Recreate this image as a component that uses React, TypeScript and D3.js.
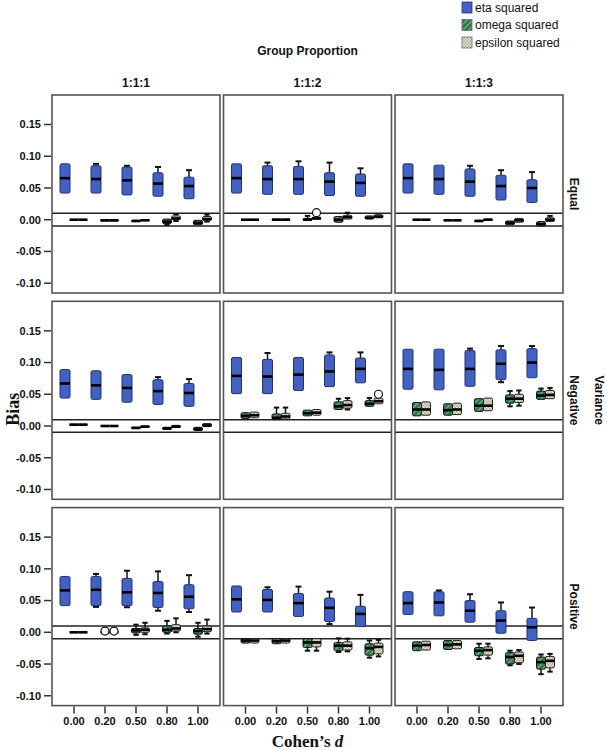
import React from "react";
import * as d3 from "d3";

// ---- data ----
const cohensD = ["0.00", "0.20", "0.50", "0.80", "1.00"];
const proportions = ["1:1:1", "1:1:2", "1:1:3"];
const varianceConds = ["Equal", "Negative", "Positive"];
const yTicks = [0.15, 0.1, 0.05, 0.0, -0.05, -0.1];
const yTickLabels = ["0.15", "0.10", "0.05", "0.00", "-0.05", "-0.10"];
const measures = ["eta squared", "omega squared", "epsilon squared"];

// each box: [lowWhisker, q1, median, q3, highWhisker]; per proportion column, 5 d-levels
const etaEqual = [
  [[0.042,0.042,0.0655,0.088,0.089],[0.042,0.042,0.064,0.085,0.088],[0.039,0.039,0.062,0.083,0.085],[0.037,0.037,0.057,0.074,0.083],[0.033,0.033,0.053,0.067,0.078]],
  [[0.042,0.042,0.0655,0.088,0.088],[0.040,0.040,0.064,0.085,0.090],[0.040,0.040,0.064,0.084,0.092],[0.038,0.038,0.060,0.074,0.090],[0.037,0.037,0.058,0.072,0.081]],
  [[0.042,0.042,0.0655,0.088,0.088],[0.040,0.040,0.064,0.086,0.086],[0.037,0.037,0.060,0.080,0.085],[0.031,0.031,0.053,0.070,0.078],[0.027,0.027,0.050,0.063,0.075]],
];
const omegaEqual = [
  [[0,0,0,0,0],[-0.002,-0.002,-0.001,0,0],[-0.003,-0.003,-0.002,-0.001,-0.001],[-0.008,-0.006,-0.003,0.001,0.002],[-0.009,-0.008,-0.005,-0.001,0]],
  [[0,0,0,0,0],[-0.002,-0.001,0,0.001,0.001],[-0.001,-0.001,0,0.002,0.006],[-0.005,-0.004,0,0.005,0.006],[0.001,0.001,0.003,0.006,0.006]],
  [[0,0,0,0,0],[-0.001,-0.001,-0.001,-0.001,-0.001],[-0.003,-0.003,-0.002,-0.001,-0.001],[-0.009,-0.008,-0.005,-0.002,-0.002],[-0.011,-0.010,-0.007,-0.003,-0.003]],
];
const epsilonEqual = [
  [[0,0,0,0,0],[-0.002,-0.002,-0.001,0,0],[-0.002,-0.001,-0.001,0,0],[-0.002,0,0.002,0.006,0.009],[-0.003,-0.001,0.001,0.005,0.008]],
  [[0,0,0,0,0],[-0.002,-0.001,0,0.001,0.001],[0,0.001,0.002,0.004,0.004],[0,0.001,0.004,0.007,0.011],[0.002,0.003,0.005,0.008,0.009]],
  [[0,0,0,0,0],[-0.001,-0.001,-0.001,-0.001,-0.001],[-0.002,-0.001,0,0.001,0.001],[-0.005,-0.004,-0.001,0.002,0.003],[-0.004,-0.003,0,0.003,0.006]],
];
const etaNegative = [
  [[0.044,0.044,0.067,0.089,0.090],[0.042,0.042,0.064,0.087,0.087],[0.0375,0.0375,0.060,0.081,0.081],[0.034,0.034,0.055,0.073,0.077],[0.031,0.031,0.052,0.067,0.074]],
  [[0.051,0.051,0.079,0.108,0.108],[0.051,0.051,0.078,0.105,0.115],[0.056,0.056,0.081,0.108,0.108],[0.062,0.062,0.086,0.112,0.116],[0.068,0.068,0.090,0.107,0.116]],
  [[0.058,0.058,0.090,0.121,0.121],[0.057,0.057,0.0885,0.121,0.121],[0.0625,0.0625,0.090,0.119,0.122],[0.069,0.073,0.098,0.120,0.126],[0.076,0.076,0.100,0.122,0.126]],
];
const omegaNegative = [
  [[0.002,0.002,0.002,0.003,0.003],[0,0,0,0,0],[-0.004,-0.004,-0.003,-0.002,-0.002],[-0.005,-0.005,-0.004,-0.002,-0.002],[-0.008,-0.007,-0.005,-0.002,-0.002]],
  [[0.012,0.012,0.016,0.021,0.021],[0.010,0.010,0.013,0.019,0.029],[0.016,0.016,0.020,0.025,0.025],[0.025,0.026,0.031,0.038,0.043],[0.031,0.031,0.035,0.040,0.044]],
  [[0.015,0.016,0.026,0.037,0.038],[0.016,0.017,0.025,0.035,0.036],[0.022,0.023,0.032,0.043,0.044],[0.031,0.036,0.043,0.049,0.055],[0.041,0.042,0.048,0.055,0.059]],
];
const epsilonNegative = [
  [[0.002,0.002,0.002,0.003,0.003],[0,0,0,0,0],[-0.002,-0.002,-0.001,0,0],[-0.002,-0.002,-0.001,0.001,0.001],[-0.001,-0.001,0.001,0.004,0.004]],
  [[0.012,0.013,0.017,0.022,0.022],[0.010,0.011,0.015,0.020,0.029],[0.017,0.017,0.021,0.026,0.027],[0.026,0.028,0.033,0.040,0.044],[0.034,0.035,0.039,0.044,0.045]],
  [[0.016,0.017,0.026,0.038,0.039],[0.017,0.018,0.026,0.036,0.037],[0.023,0.024,0.032,0.044,0.045],[0.032,0.037,0.043,0.050,0.056],[0.042,0.043,0.049,0.056,0.060]],
];
const etaPositive = [
  [[0.042,0.042,0.066,0.088,0.088],[0.040,0.042,0.067,0.088,0.092],[0.0395,0.042,0.063,0.085,0.097],[0.034,0.039,0.062,0.080,0.096],[0.032,0.037,0.056,0.075,0.090]],
  [[0.032,0.032,0.052,0.073,0.073],[0.032,0.032,0.051,0.0675,0.071],[0.025,0.025,0.046,0.061,0.072],[0.013,0.017,0.0385,0.054,0.064],[0.009,0.009,0.029,0.041,0.059]],
  [[0.028,0.028,0.046,0.064,0.064],[0.026,0.026,0.047,0.064,0.066],[0.016,0.016,0.034,0.050,0.060],[-0.0015,-0.0015,0.0185,0.034,0.047],[-0.013,-0.013,0.008,0.022,0.039]],
];
const omegaPositive = [
  [[0,0,0,0,0],[0,0,0,0,0],[-0.004,-0.001,0.003,0.006,0.012],[-0.002,0,0.004,0.010,0.018],[-0.007,-0.003,0.002,0.006,0.015]],
  [[-0.018,-0.017,-0.013,-0.010,-0.009],[-0.018,-0.018,-0.014,-0.010,-0.009],[-0.029,-0.024,-0.016,-0.010,-0.009],[-0.031,-0.029,-0.021,-0.016,-0.0095],[-0.040,-0.036,-0.025,-0.018,-0.013]],
  [[-0.030,-0.029,-0.021,-0.015,-0.014],[-0.028,-0.027,-0.020,-0.013,-0.013],[-0.042,-0.037,-0.029,-0.024,-0.018],[-0.052,-0.050,-0.039,-0.032,-0.029],[-0.066,-0.058,-0.047,-0.039,-0.035]],
];
const epsilonPositive = [
  [[0,0,0,0,0],[0,0,0,0,0],[-0.003,0,0.004,0.007,0.015],[0,0.002,0.006,0.012,0.022],[-0.002,0.001,0.005,0.010,0.020]],
  [[-0.018,-0.017,-0.013,-0.010,-0.009],[-0.018,-0.017,-0.013,-0.010,-0.009],[-0.029,-0.023,-0.016,-0.010,-0.009],[-0.030,-0.028,-0.021,-0.015,-0.010],[-0.038,-0.034,-0.023,-0.017,-0.012]],
  [[-0.029,-0.028,-0.020,-0.014,-0.013],[-0.027,-0.026,-0.019,-0.013,-0.012],[-0.041,-0.036,-0.028,-0.023,-0.018],[-0.050,-0.048,-0.037,-0.031,-0.028],[-0.062,-0.056,-0.045,-0.038,-0.034]],
];
// outliers: [varianceRow, proportionCol, dIndex, measureIndex, value]
const outliers = [
  [0, 1, 2, 2, 0.011],
  [1, 1, 4, 2, 0.050],
  [2, 0, 1, 1, 0.002],
  [2, 0, 1, 2, 0.002],
];

const dataByMeasure = [
  [etaEqual, etaNegative, etaPositive],
  [omegaEqual, omegaNegative, omegaPositive],
  [epsilonEqual, epsilonNegative, epsilonPositive],
];

// ---- layout ----
const W = 607, H = 750;
const panelLeft = 52, panelW = 168, colPitch = 171.5;
const panelTop = 95, panelH = 198, rowPitch = 206.3;
const boxOffsets = [-9, 0, 9];
const boxWidths = [10, 9, 9];
const fills = ["#4361c2", "url(#hatch)", "url(#checker)"];
const strokes = ["#23326e", "#111", "#222"];
const sans = "'Liberation Sans', Arial, sans-serif";
const serif = "'Liberation Serif', 'Times New Roman', serif";

function Box({ cx, w, v, y, fill, stroke }) {
  const [lo, q1, med, q3, hi] = v;
  const capW = Math.max(5, w * 0.6);
  const els = [];
  if (y(lo) - y(q1) > 0.8) {
    els.push(<line key="wl" x1={cx} x2={cx} y1={y(q1)} y2={y(lo)} stroke="#111" strokeWidth={1.5} />);
    els.push(<line key="cl" x1={cx - capW / 2} x2={cx + capW / 2} y1={y(lo)} y2={y(lo)} stroke="#111" strokeWidth={2} />);
  }
  if (y(q3) - y(hi) > 0.8) {
    els.push(<line key="wh" x1={cx} x2={cx} y1={y(hi)} y2={y(q3)} stroke="#111" strokeWidth={1.5} />);
    els.push(<line key="ch" x1={cx - capW / 2} x2={cx + capW / 2} y1={y(hi)} y2={y(hi)} stroke="#111" strokeWidth={2} />);
  }
  const h = y(q1) - y(q3);
  if (h > 0.5) {
    els.push(<rect key="b" x={cx - w / 2} y={y(q3)} width={w} height={h} rx={1.5} fill={fill} stroke={stroke} strokeWidth={1} />);
  }
  els.push(<line key="m" x1={cx - w / 2} x2={cx + w / 2} y1={y(med)} y2={y(med)} stroke="#000" strokeWidth={2.6} />);
  return <g>{els}</g>;
}

export default function App() {
  const panels = [];
  varianceConds.forEach((vc, r) => {
    proportions.forEach((pr, c) => {
      const x0 = panelLeft + c * colPitch;
      const y0 = panelTop + r * rowPitch;
      const y = d3.scaleLinear().domain([-0.1155, 0.1965]).range([y0 + panelH, y0]);
      const x = d3.scalePoint().domain(cohensD).range([x0, x0 + panelW]).padding(0.71);
      const items = [];
      items.push(<rect key="bg" x={x0} y={y0} width={panelW} height={panelH} fill="#fff" />);
      [0.01, -0.01].forEach((rv, i) => {
        items.push(<line key={"ref" + i} x1={x0} x2={x0 + panelW} y1={y(rv)} y2={y(rv)} stroke="#222" strokeWidth={1.5} />);
      });
      cohensD.forEach((dv, di) => {
        [0, 1, 2].forEach((mi) => {
          const v = dataByMeasure[mi][r][c][di];
          items.push(
            <Box key={`b${di}-${mi}`} cx={x(dv) + boxOffsets[mi]} w={boxWidths[mi]} v={v} y={y} fill={fills[mi]} stroke={strokes[mi]} />
          );
        });
      });
      outliers.filter((o) => o[0] === r && o[1] === c).forEach((o, i) => {
        items.push(
          <circle key={"o" + i} cx={x(cohensD[o[2]]) + boxOffsets[o[3]]} cy={y(o[4])} r={4} fill="#fff" stroke="#111" strokeWidth={1.2} />
        );
      });
      items.push(<rect key="frame" x={x0} y={y0} width={panelW} height={panelH} fill="none" stroke="#555" strokeWidth={1.6} />);
      if (c === 0) {
        yTicks.forEach((t, i) => {
          items.push(<line key={"yt" + i} x1={44} x2={51} y1={y(t)} y2={y(t)} stroke="#333" strokeWidth={1.5} />);
          items.push(
            <text key={"yl" + i} x={41} y={y(t)} dy="0.35em" textAnchor="end" fontFamily={sans} fontWeight="bold" fontSize={11} fill="#111">
              {yTickLabels[i]}
            </text>
          );
        });
      }
      if (r === 2) {
        cohensD.forEach((dv, i) => {
          items.push(<line key={"xt" + i} x1={x(dv)} x2={x(dv)} y1={y0 + panelH + 1} y2={y0 + panelH + 8} stroke="#333" strokeWidth={1.5} />);
          items.push(
            <text key={"xl" + i} x={x(dv)} y={y0 + panelH + 16} dy="0.35em" textAnchor="middle" fontFamily={sans} fontWeight="bold" fontSize={11} fill="#111">
              {dv}
            </text>
          );
        });
      }
      panels.push(<g key={`p${r}-${c}`}>{items}</g>);
    });
  });

  const rightX = panelLeft + 2 * colPitch + panelW + 11;

  return (
    <svg width={W} height={H} style={{ position: "absolute", left: 0, top: 0 }} xmlns="http://www.w3.org/2000/svg">
      <defs>
        <pattern id="hatch" width="4" height="4" patternUnits="userSpaceOnUse" patternTransform="rotate(45)">
          <rect width="4" height="4" fill="#2f7a4d" />
          <line x1="0" y1="0" x2="0" y2="4" stroke="#9ed0ad" strokeWidth="1.4" />
        </pattern>
        <pattern id="checker" width="3" height="3" patternUnits="userSpaceOnUse">
          <rect width="3" height="3" fill="#eeead4" />
          <rect width="1.5" height="1.5" fill="#a8a898" />
          <rect x="1.5" y="1.5" width="1.5" height="1.5" fill="#a8a898" />
        </pattern>
      </defs>
      <rect width={W} height={H} fill="#fff" />

      {measures.map((m, i) => (
        <g key={m}>
          <rect x={462} y={2 + i * 17.5} width={10} height={11} fill={fills[i]} stroke={i === 0 ? "#23326e" : "#666"} strokeWidth={0.8} />
          <text x={475} y={7.5 + i * 17.5} dy="0.35em" fontFamily={sans} fontSize={12} fill="#111">{m}</text>
        </g>
      ))}

      <text x={panelLeft + colPitch + panelW / 2} y={51} dy="0.35em" textAnchor="middle" fontFamily={sans} fontWeight="bold" fontSize={12} fill="#111">
        Group Proportion
      </text>
      {proportions.map((p, c) => (
        <text key={p} x={panelLeft + c * colPitch + panelW / 2} y={83} dy="0.35em" textAnchor="middle" fontFamily={sans} fontWeight="bold" fontSize={12} fill="#111">
          {p}
        </text>
      ))}

      {panels}

      {varianceConds.map((vc, r) => (
        <text key={vc} transform={`translate(${rightX},${panelTop + r * rowPitch + panelH / 2}) rotate(90)`} dy="0.35em" textAnchor="middle" fontFamily={sans} fontWeight="bold" fontSize={12} fill="#111">
          {vc}
        </text>
      ))}
      <text transform={`translate(${rightX + 25},${panelTop + rowPitch + panelH / 2}) rotate(90)`} dy="0.35em" textAnchor="middle" fontFamily={sans} fontWeight="bold" fontSize={12} fill="#111">
        Variance
      </text>

      <text transform={`translate(13,${panelTop + rowPitch + 108}) rotate(-90)`} dy="0.35em" textAnchor="middle" fontFamily={serif} fontWeight="bold" fontSize={18} fill="#111">
        Bias
      </text>
      <text x={panelLeft + colPitch + panelW / 2} y={742} dy="0.3em" textAnchor="middle" fontFamily={serif} fontWeight="bold" fontSize={17} fill="#111">
        Cohen’s <tspan fontStyle="italic">d</tspan>
      </text>
    </svg>
  );
}
